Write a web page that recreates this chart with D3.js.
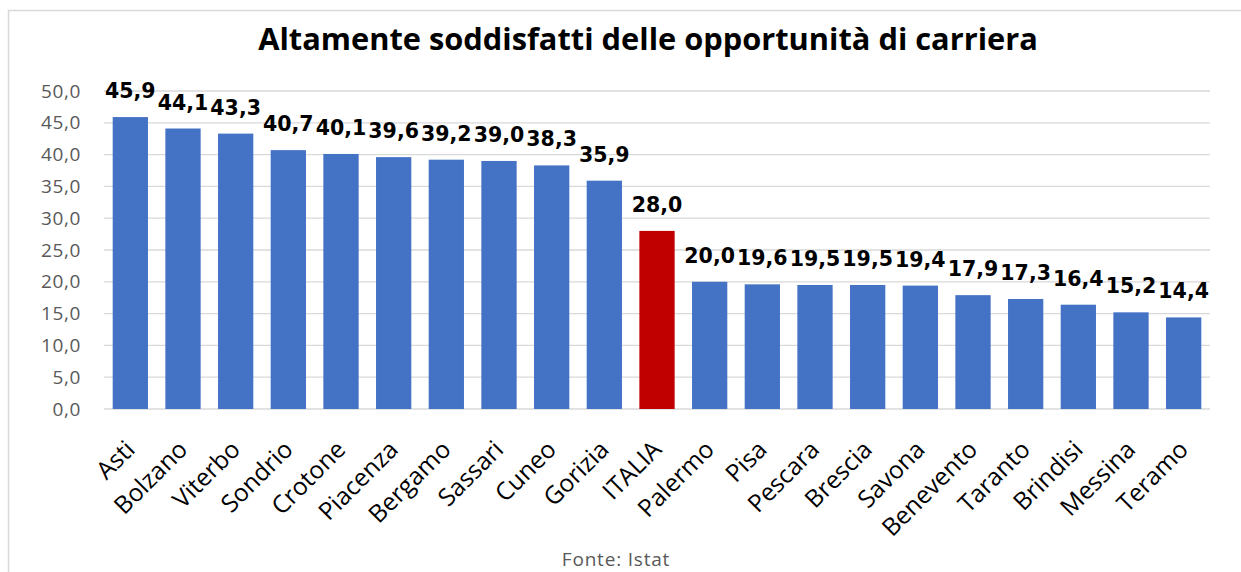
<!DOCTYPE html>
<html>
<head>
<meta charset="utf-8">
<script src="https://cdn.jsdelivr.net/npm/d3@7"></script>
<style>
  body { margin: 0; background: #fff; }
  svg { display: block; }
</style>
</head>
<body>
<script>

/*
 * Chart data.
 */

var categories = ['Asti', 'Bolzano', 'Viterbo', 'Sondrio', 'Crotone', 'Piacenza',
  'Bergamo', 'Sassari', 'Cuneo', 'Gorizia', 'ITALIA', 'Palermo', 'Pisa',
  'Pescara', 'Brescia', 'Savona', 'Benevento', 'Taranto', 'Brindisi',
  'Messina', 'Teramo'];
var values = [45.9, 44.1, 43.3, 40.7, 40.1, 39.6, 39.2, 39.0, 38.3, 35.9, 28.0,
  20.0, 19.6, 19.5, 19.5, 19.4, 17.9, 17.3, 16.4, 15.2, 14.4];
var yTicks = [0, 5, 10, 15, 20, 25, 30, 35, 40, 45, 50];
var highlight = 'ITALIA';

var title = 'Altamente soddisfatti delle opportunità di carriera';
var source = 'Fonte: Istat';

/*
 * Layout.
 */

var width = 1241;
var height = 572;
var plot = { left: 104, right: 1210, top: 91, bottom: 409 };

var fmt = function(v) { return d3.format('.1f')(v).replace('.', ','); };

var svg = d3.select('body').append('svg')
  .attr('width', width)
  .attr('height', height);

// Outer frame.
svg.append('rect')
  .attr('x', 8.5).attr('y', 10.5)
  .attr('width', width + 10).attr('height', height + 10)
  .attr('fill', 'none')
  .attr('stroke', '#d9d9d9')
  .attr('stroke-width', 1.5);

// Scales.
var x = d3.scaleBand()
  .domain(categories)
  .range([plot.left, plot.right])
  .paddingInner(0.33)
  .paddingOuter(0.165);

var y = d3.scaleLinear()
  .domain([0, 50])
  .range([plot.bottom, plot.top]);

// Gridlines.
svg.append('g')
  .selectAll('line')
  .data(yTicks)
  .join('line')
  .attr('x1', plot.left).attr('x2', plot.right)
  .attr('y1', function(d) { return y(d); })
  .attr('y2', function(d) { return y(d); })
  .attr('stroke', '#d9d9d9')
  .attr('stroke-width', 1.3);

// Y axis labels.
var yAxis = svg.append('g')
  .attr('transform', 'translate(' + (plot.left - 23) + ',0)')
  .call(d3.axisLeft(y).tickValues(yTicks).tickFormat(fmt).tickSize(0).tickPadding(0));
yAxis.select('.domain').remove();
yAxis.selectAll('text')
  .attr('fill', '#595959')
  .style('font-family', '"Open Sans", sans-serif')
  .style('font-size', '19px')
  .style('letter-spacing', '0.6px');

// Bars.
svg.append('g')
  .selectAll('rect')
  .data(values)
  .join('rect')
  .attr('x', function(d, i) { return x(categories[i]); })
  .attr('y', function(d) { return y(d); })
  .attr('width', x.bandwidth())
  .attr('height', function(d) { return y(0) - y(d); })
  .attr('fill', function(d, i) { return categories[i] === highlight ? '#c00000' : '#4472c4'; });

// Value labels.
svg.append('g')
  .selectAll('text')
  .data(values)
  .join('text')
  .attr('x', function(d, i) { return x(categories[i]) + x.bandwidth() / 2; })
  .attr('y', function(d) { return y(d) - 19; })
  .attr('text-anchor', 'middle')
  .attr('fill', '#000')
  .style('font-family', '"DejaVu Sans", sans-serif')
  .style('font-weight', 'bold')
  .style('font-size', '20.5px')
  .text(fmt);

// Category labels.
var xAxis = svg.append('g')
  .attr('transform', 'translate(0,' + plot.bottom + ')')
  .call(d3.axisBottom(x).tickSize(0).tickPadding(0));
xAxis.select('.domain').remove();
xAxis.selectAll('text')
  .attr('text-anchor', 'end')
  .attr('dy', '0')
  .attr('y', 0)
  .attr('transform', 'translate(6,42) rotate(-45)')
  .attr('fill', '#000')
  .style('font-family', '"Open Sans", sans-serif')
  .style('font-size', '24.5px');

// Title.
var titleEl = svg.append('text')
  .attr('x', 648)
  .attr('y', 50)
  .attr('text-anchor', 'middle')
  .attr('fill', '#000')
  .style('font-family', '"Open Sans", sans-serif')
  .style('font-weight', 'bold')
  .style('font-size', '30px')
  .text(title);

// Fit title to the reference width.
var tw = titleEl.node().getComputedTextLength();
titleEl.style('font-size', (30 * 780 / tw) + 'px');

// Source.
svg.append('text')
  .attr('x', 616)
  .attr('y', 566)
  .attr('text-anchor', 'middle')
  .attr('fill', '#595959')
  .style('font-family', '"Open Sans", sans-serif')
  .style('font-size', '19px')
  .style('letter-spacing', '0.8px')
  .text(source);

</script>
</body>
</html>
